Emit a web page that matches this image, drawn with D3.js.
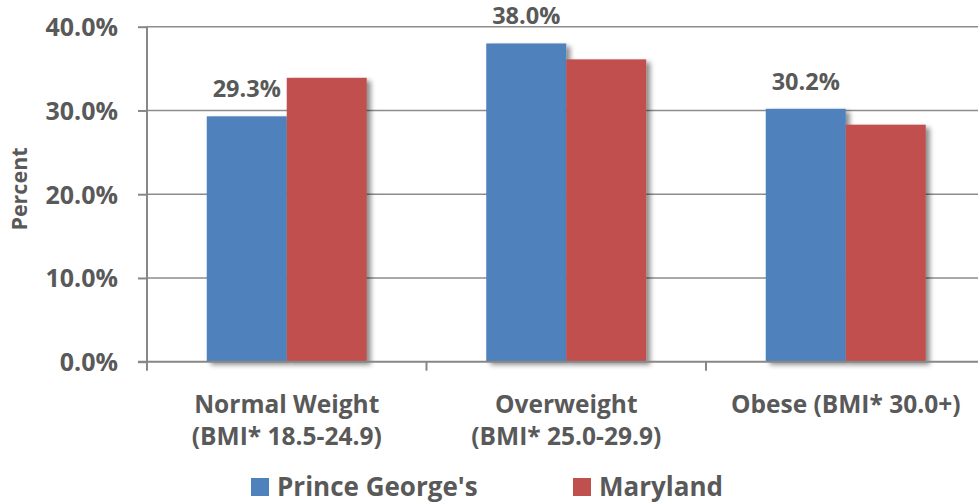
<!DOCTYPE html>
<html>
<head>
<meta charset="utf-8">
<script src="https://cdn.jsdelivr.net/npm/d3@7"></script>
<style>
  body { margin: 0; background: #fff; }
  svg text { font-family: "Open Sans", sans-serif; font-weight: 700; fill: #595959; }
</style>
</head>
<body>
<div id="chart"></div>
<script>
var categories = ["Normal Weight", "Overweight", "Obese"];
var categoryLines = [
  ["Normal Weight", "(BMI* 18.5-24.9)"],
  ["Overweight", "(BMI* 25.0-29.9)"],
  ["Obese (BMI* 30.0+)"]
];
var series = ["Prince George's", "Maryland"];
var princeGeorges = [29.3, 38.0, 30.2];
var maryland = [33.9, 36.1, 28.3];
var yTicks = [0, 10, 20, 30, 40];
var colors = ["#4F81BD", "#C0504D"];

var width = 978, height = 504;
var svg = d3.select("#chart").append("svg")
    .attr("width", width)
    .attr("height", height);

var defs = svg.append("defs");
defs.append("filter")
    .attr("id", "shadow")
    .attr("x", "-10%").attr("y", "-10%")
    .attr("width", "130%").attr("height", "130%")
  .append("feDropShadow")
    .attr("dx", 4).attr("dy", 3)
    .attr("stdDeviation", 2.5)
    .attr("flood-color", "#000")
    .attr("flood-opacity", 0.45);

var left = 147, axisY = 361.7;

var x0 = d3.scaleBand()
    .domain(categories)
    .range([left, 985.5])
    .paddingInner(0).paddingOuter(0);

var x1 = d3.scaleBand()
    .domain(series)
    .range([0, x0.bandwidth()])
    .paddingInner(0).paddingOuter(0.747);

var y = d3.scaleLinear().domain([0, 40]).range([axisY, 26.7]);

// gridlines
svg.append("g").attr("class", "grid")
  .selectAll("line")
  .data(yTicks.filter(function(d) { return d > 0; }))
  .enter().append("line")
    .attr("x1", left).attr("x2", width)
    .attr("y1", function(d) { return y(d); })
    .attr("y2", function(d) { return y(d); })
    .attr("stroke", "#8c8c8c")
    .attr("stroke-width", 1.5);

// bars
var data = categories.map(function(c, i) {
  return { cat: c, values: [princeGeorges[i], maryland[i]] };
});

var groups = svg.append("g").selectAll("g")
    .data(data)
    .enter().append("g")
    .attr("transform", function(d) { return "translate(" + x0(d.cat) + ",0)"; });

groups.selectAll("rect")
    .data(function(d) { return d.values.map(function(v, j) { return { s: series[j], v: v, j: j }; }); })
    .enter().append("rect")
    .attr("x", function(d) { return x1(d.s); })
    .attr("y", function(d) { return y(d.v); })
    .attr("width", x1.bandwidth())
    .attr("height", function(d) { return axisY - y(d.v); })
    .attr("fill", function(d) { return colors[d.j]; })
    .attr("filter", "url(#shadow)");

// data labels on Prince George's bars
groups.append("text")
    .attr("x", function(d) { return x1(series[0]) + x1.bandwidth() / 2; })
    .attr("y", function(d) { return y(d.values[0]) - 19; })
    .attr("text-anchor", "middle")
    .style("font-size", "23.5px")
    .text(function(d) { return d.values[0].toFixed(1) + "%"; });

// y axis
var yAxis = svg.append("g")
    .attr("transform", "translate(" + left + ",0)")
    .call(d3.axisLeft(y)
      .tickValues(yTicks)
      .tickFormat(function(d) { return d.toFixed(1) + "%"; })
      .tickSize(9)
      .tickPadding(20));
yAxis.select(".domain").attr("stroke", "#878787").attr("stroke-width", 2)
    .attr("d", "M0," + y(40) + "V" + axisY);
yAxis.selectAll(".tick line").attr("stroke", "#878787").attr("stroke-width", 2);
yAxis.selectAll(".tick text")
    .style("font-size", "25px")
    .attr("dy", "0.36em");

// x axis line and boundary ticks
svg.append("line")
    .attr("x1", left - 9).attr("x2", width)
    .attr("y1", axisY).attr("y2", axisY)
    .attr("stroke", "#878787").attr("stroke-width", 2);

var bounds = categories.map(function(c) { return x0(c); }).concat([x0.range()[1]]);
svg.append("g").selectAll("line")
    .data(bounds)
    .enter().append("line")
    .attr("x1", function(d) { return d; }).attr("x2", function(d) { return d; })
    .attr("y1", axisY).attr("y2", axisY + 9)
    .attr("stroke", "#878787").attr("stroke-width", 2);

// category labels
var catText = svg.append("g").selectAll("text")
    .data(categories)
    .enter().append("text")
    .attr("text-anchor", "middle")
    .style("font-size", "24.5px")
    .attr("transform", function(d) { return "translate(" + (x0(d) + x0.bandwidth() / 2) + ",413)"; });

catText.selectAll("tspan")
    .data(function(d, i) { return categoryLines[i]; })
    .enter().append("tspan")
    .attr("x", 0)
    .attr("y", function(d, i) { return i * 32; })
    .text(function(d) { return d; });

// y axis title
svg.append("text")
    .attr("transform", "translate(27,189) rotate(-90)")
    .attr("text-anchor", "middle")
    .style("font-size", "21.5px")
    .text("Percent");

// legend
var legendX = [251, 573];
var legend = svg.append("g").selectAll("g")
    .data(series)
    .enter().append("g")
    .attr("transform", function(d, i) { return "translate(" + legendX[i] + ",0)"; });

legend.append("rect")
    .attr("x", 0).attr("y", 478)
    .attr("width", 18).attr("height", 18)
    .attr("fill", function(d, i) { return colors[i]; });

legend.append("text")
    .attr("x", 26).attr("y", 496)
    .style("font-size", "26px")
    .text(function(d) { return d; });
</script>
</body>
</html>
